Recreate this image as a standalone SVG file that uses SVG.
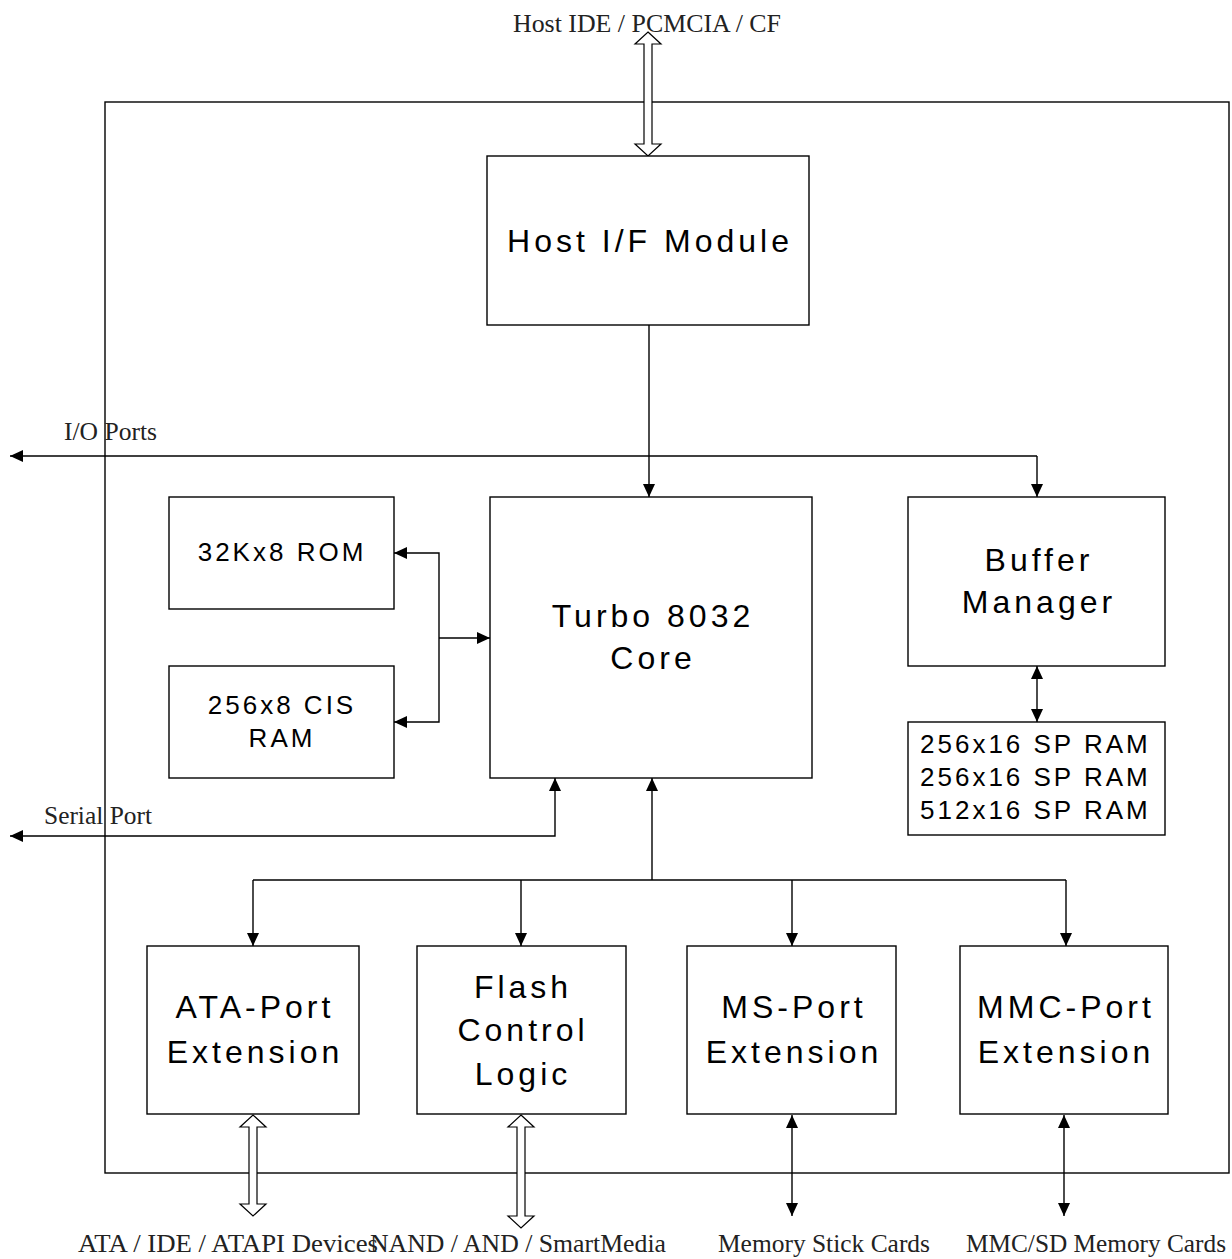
<svg xmlns="http://www.w3.org/2000/svg" width="1232" height="1259" viewBox="0 0 1232 1259">
<defs>
<marker id="ah" markerUnits="userSpaceOnUse" markerWidth="14" markerHeight="14" viewBox="0 0 14 14" refX="13" refY="7" orient="auto-start-reverse">
<path d="M0,1 L13,7 L0,13 Z" fill="#000"/>
</marker>
<style>
.box{fill:#fff;stroke:#000;stroke-width:1.4}
.ln{fill:none;stroke:#000;stroke-width:1.4}
.hol{fill:#fff;stroke:#000;stroke-width:1.2}
.sans{font-family:"Liberation Sans",Arial,sans-serif;fill:#000;text-anchor:middle}
.big{font-size:32px;letter-spacing:4px}
.mid{font-size:26px;letter-spacing:3px}
.ser{font-family:"Liberation Serif","Times New Roman",serif;font-size:25px;fill:#222}
</style>
</defs>
<rect width="1232" height="1259" fill="#fff"/>
<g id="boundary"><rect x="105" y="102" width="1124" height="1071" class="box" fill="none"/></g>

<g id="connectors">
<line x1="649" y1="325" x2="649" y2="497" class="ln" marker-end="url(#ah)"/>
<polyline points="1037,456 10,456" class="ln" marker-end="url(#ah)"/>
<line x1="1037" y1="456" x2="1037" y2="497" class="ln" marker-end="url(#ah)"/>
<line x1="1037" y1="666" x2="1037" y2="722" class="ln" marker-start="url(#ah)" marker-end="url(#ah)"/>
<polyline points="394,553 439,553 439,722 394,722" class="ln" marker-start="url(#ah)" marker-end="url(#ah)"/>
<line x1="439" y1="638" x2="490" y2="638" class="ln" marker-end="url(#ah)"/>
<polyline points="555,778 555,836 10,836" class="ln" marker-start="url(#ah)" marker-end="url(#ah)"/>
<line x1="652" y1="880" x2="652" y2="778" class="ln" marker-end="url(#ah)"/>
<line x1="253" y1="880" x2="1066" y2="880" class="ln"/>
<line x1="253" y1="880" x2="253" y2="946" class="ln" marker-end="url(#ah)"/>
<line x1="521" y1="880" x2="521" y2="946" class="ln" marker-end="url(#ah)"/>
<line x1="792" y1="880" x2="792" y2="946" class="ln" marker-end="url(#ah)"/>
<line x1="1066" y1="880" x2="1066" y2="946" class="ln" marker-end="url(#ah)"/>
<line x1="792" y1="1115" x2="792" y2="1216" class="ln" marker-start="url(#ah)" marker-end="url(#ah)"/>
<line x1="1064" y1="1115" x2="1064" y2="1216" class="ln" marker-start="url(#ah)" marker-end="url(#ah)"/>
<path class="hol" d="M648,32 L661,44 L652,44 L652,144 L661,144 L648,156 L635,144 L644,144 L644,44 L635,44 Z"/>
<path class="hol" d="M253,1115 L266,1127 L257,1127 L257,1204 L266,1204 L253,1216 L240,1204 L249,1204 L249,1127 L240,1127 Z"/>
<path class="hol" d="M521,1115 L534,1127 L525,1127 L525,1216 L534,1216 L521,1228 L508,1216 L517,1216 L517,1127 L508,1127 Z"/>
</g>

<g id="host-if"><rect x="487" y="156" width="322" height="169" class="box"/>
<text x="650" y="252" class="sans big">Host I/F Module</text></g>

<g id="core"><rect x="490" y="497" width="322" height="281" class="box"/>
<text x="653" y="627" class="sans big">Turbo 8032</text>
<text x="653" y="669" class="sans big">Core</text></g>

<g id="buffer-manager"><rect x="908" y="497" width="257" height="169" class="box"/>
<text x="1039" y="571" class="sans big">Buffer</text>
<text x="1039" y="613" class="sans big">Manager</text></g>

<g id="sp-ram"><rect x="908" y="722" width="257" height="113" class="box"/>
<text x="920" y="753" class="sans mid" style="text-anchor:start">256x16 SP RAM</text>
<text x="920" y="786" class="sans mid" style="text-anchor:start">256x16 SP RAM</text>
<text x="920" y="819" class="sans mid" style="text-anchor:start">512x16 SP RAM</text></g>

<g id="rom"><rect x="169" y="497" width="225" height="112" class="box"/>
<text x="282" y="561" class="sans mid">32Kx8 ROM</text></g>

<g id="cis-ram"><rect x="169" y="666" width="225" height="112" class="box"/>
<text x="282" y="714" class="sans mid">256x8 CIS</text>
<text x="282" y="747" class="sans mid">RAM</text></g>

<g id="ata-port"><rect x="147" y="946" width="212" height="168" class="box"/>
<text x="255" y="1018" class="sans big">ATA-Port</text>
<text x="255" y="1063" class="sans big">Extension</text></g>

<g id="flash"><rect x="417" y="946" width="209" height="168" class="box"/>
<text x="523" y="998" class="sans big">Flash</text>
<text x="523" y="1041" class="sans big">Control</text>
<text x="523" y="1085" class="sans big">Logic</text></g>

<g id="ms-port"><rect x="687" y="946" width="209" height="168" class="box"/>
<text x="794" y="1018" class="sans big">MS-Port</text>
<text x="794" y="1063" class="sans big">Extension</text></g>

<g id="mmc-port"><rect x="960" y="946" width="208" height="168" class="box"/>
<text x="1066" y="1018" class="sans big">MMC-Port</text>
<text x="1066" y="1063" class="sans big">Extension</text></g>

<g id="labels">
<text x="513" y="32" class="ser" textLength="268" lengthAdjust="spacingAndGlyphs">Host IDE / PCMCIA / CF</text>
<text x="64" y="440" class="ser" textLength="93" lengthAdjust="spacingAndGlyphs">I/O Ports</text>
<text x="44" y="824" class="ser" textLength="108" lengthAdjust="spacingAndGlyphs">Serial Port</text>
<text x="78" y="1252" class="ser" textLength="300" lengthAdjust="spacingAndGlyphs">ATA / IDE / ATAPI Devices</text>
<text x="370" y="1252" class="ser" textLength="296" lengthAdjust="spacingAndGlyphs">NAND / AND / SmartMedia</text>
<text x="718" y="1252" class="ser" textLength="212" lengthAdjust="spacingAndGlyphs">Memory Stick Cards</text>
<text x="966" y="1252" class="ser" textLength="260" lengthAdjust="spacingAndGlyphs">MMC/SD Memory Cards</text>
</g>
</svg>
